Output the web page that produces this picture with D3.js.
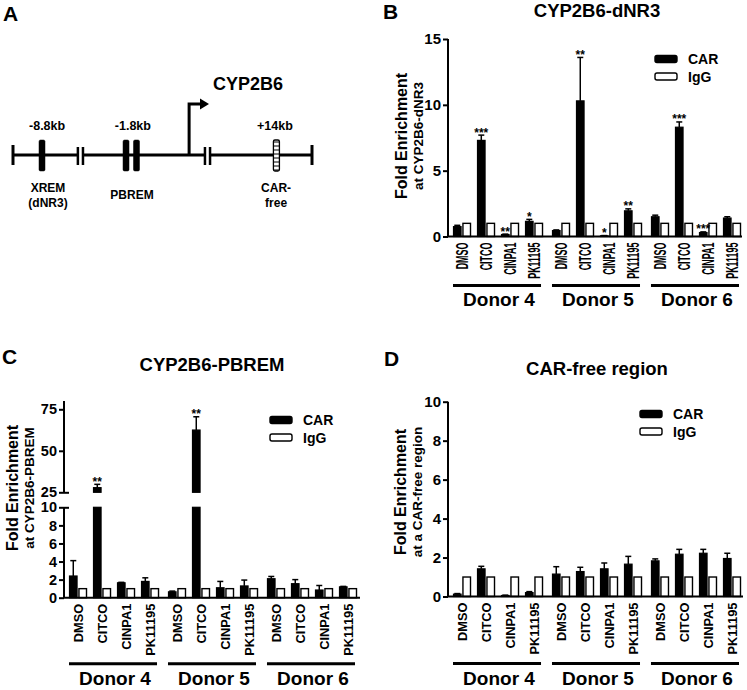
<!DOCTYPE html>
<html>
<head>
<meta charset="utf-8">
<script src="https://cdn.jsdelivr.net/npm/d3@7"></script>
<style>
  html, body { margin: 0; padding: 0; background: #fff; }
  svg { display: block; }
  text { font-family: "Liberation Sans", Arial, Helvetica, sans-serif; font-weight: bold; fill: #000; }
</style>
</head>
<body>
<svg id="chart" width="747" height="690"></svg>
<script>
// ---------------- DATA ----------------
const donors = ["Donor 4", "Donor 5", "Donor 6"];
const treatments = ["DMSO", "CITCO", "CINPA1", "PK11195"];
const seriesNames = ["CAR", "IgG"];

// Panel B: CYP2B6-dNR3 (order: Donor4 x4 treatments, Donor5, Donor6)
const dnr3CAR    = [0.75, 7.3, 0.15, 1.15,  0.45, 10.3, 0.05, 1.95,  1.5, 8.3, 0.3, 1.4];
const dnr3CARerr = [0.1, 0.4, 0.03, 0.15,   0.05, 3.3, 0.02, 0.15,   0.12, 0.4, 0.05, 0.1];
const dnr3IgG    = [1, 1, 1, 1,  1, 1, 1, 1,  1, 1, 1, 1];
const dnr3Sig    = ["", "***", "**", "*",  "", "**", "*", "**",  "", "***", "***", ""];
const dnr3Ticks  = [0, 5, 10, 15];

// Panel C: CYP2B6-PBREM (broken axis)
const pbremCAR    = [2.4, 27.8, 1.65, 1.8,  0.65, 62.5, 1.1, 1.3,  2.1, 1.55, 0.85, 1.2];
const pbremCARerr = [1.7, 2.0, 0.05, 0.4,   0.08, 8.0, 0.7, 0.65,  0.25, 0.45, 0.5, 0.05];
const pbremIgG    = [1, 1, 1, 1,  1, 1, 1, 1,  1, 1, 1, 1];
const pbremSig    = ["", "**", "", "",  "", "**", "", "",  "", "", "", ""];
const pbremTicksLow  = [0, 2, 4, 6, 8, 10];
const pbremTicksHigh = [25, 50, 75];

// Panel D: CAR-free region
const freeCAR    = [0.12, 1.42, 0.05, 0.2,  1.15, 1.28, 1.42, 1.66,  1.83, 2.17, 2.22, 1.95];
const freeCARerr = [0.03, 0.13, 0.02, 0.05, 0.38, 0.22, 0.3, 0.4,    0.1, 0.25, 0.2, 0.27];
const freeIgG    = [1, 1, 1, 1,  1, 1, 1, 1,  1, 1, 1, 1];
const freeTicks  = [0, 2, 4, 6, 8, 10];

// Panel A: schematic elements (schematic units 0..100 along the gene map)
const mapEnds   = [0, 100];
const mapBreaks = [[21.7, 23.4], [64.2, 65.9]];
const mapSites  = [
  {u: 9.7,  kind: "solid", kb: "-8.8kb", kbU: 11.4, name: ["XREM", "(dNR3)"], nameU: 11.7},
  {u: 37.8, kind: "solid", kb: null},
  {u: 41.3, kind: "solid", kb: "-1.8kb", kbU: 40.1, name: ["PBREM"], nameU: 39.8},
  {u: 88.1, kind: "open",  kb: "+14kb", kbU: 87.6, name: ["CAR-", "free"], nameU: 88.0}
];
const tssU = 58.9;

// ---------------- DRAW ----------------
const svg = d3.select("#chart");
svg.append("rect").attr("width", 747).attr("height", 690).attr("fill", "#fff");

// Panel letters
const letters = [["A", 3, 21], ["B", 383, 19], ["C", 2, 364], ["D", 384, 366]];
svg.selectAll("text.letter").data(letters).join("text")
  .attr("class", "letter").attr("x", d => d[1]).attr("y", d => d[2])
  .attr("font-size", 21).text(d => d[0]);

// ---- Panel A ----
(function () {
  const g = svg.append("g");
  const ux = d3.scaleLinear([0, 100], [13, 312]);
  const ly = 155;
  const segs = [[0, mapBreaks[0][0]], [mapBreaks[0][1], mapBreaks[1][0]], [mapBreaks[1][1], 100]];
  g.selectAll("line.seg").data(segs).join("line")
    .attr("x1", d => ux(d[0])).attr("x2", d => ux(d[1])).attr("y1", ly).attr("y2", ly)
    .attr("stroke", "#000").attr("stroke-width", 3);
  g.selectAll("line.end").data(mapEnds).join("line")
    .attr("x1", d => ux(d)).attr("x2", d => ux(d)).attr("y1", ly - 10).attr("y2", ly + 10)
    .attr("stroke", "#000").attr("stroke-width", 3);
  g.selectAll("line.brk").data(mapBreaks.flat()).join("line")
    .attr("x1", d => ux(d)).attr("x2", d => ux(d)).attr("y1", ly - 8).attr("y2", ly + 10)
    .attr("stroke", "#000").attr("stroke-width", 2.5);
  const defs = svg.append("defs");
  const pat = defs.append("pattern").attr("id", "hatch").attr("patternUnits", "userSpaceOnUse")
    .attr("width", 6).attr("height", 4);
  pat.append("rect").attr("width", 6).attr("height", 4).attr("fill", "#fff");
  pat.append("line").attr("x1", 0).attr("x2", 6).attr("y1", 2).attr("y2", 2)
    .attr("stroke", "#000").attr("stroke-width", 1);
  g.selectAll("rect.site").data(mapSites).join("rect")
    .attr("x", d => ux(d.u) - 3).attr("y", ly - 15).attr("width", 6).attr("height", 31)
    .attr("rx", 1.5)
    .attr("fill", d => d.kind === "solid" ? "#000" : "url(#hatch)")
    .attr("stroke", "#000").attr("stroke-width", d => d.kind === "solid" ? 0.5 : 1.3);
  const lab = mapSites.filter(d => d.kb);
  g.selectAll("text.kb").data(lab).join("text")
    .attr("x", d => ux(d.kbU)).attr("y", 130).attr("text-anchor", "middle")
    .attr("font-size", 12.5).text(d => d.kb);
  lab.forEach(d => {
    d.name.forEach((n, i) => {
      const y0 = d.name.length === 1 ? 199 : 192 + i * 15;
      g.append("text").attr("x", ux(d.nameU)).attr("y", y0).attr("text-anchor", "middle")
        .attr("font-size", 12).text(n);
    });
  });
  const tx = ux(tssU);
  g.append("path").attr("d", `M${tx},${ly} V104 H201`).attr("fill", "none")
    .attr("stroke", "#000").attr("stroke-width", 3);
  g.append("path").attr("d", `M200,98.5 L209,104 L200,109.5 Z`).attr("fill", "#000");
  g.append("text").attr("x", 213).attr("y", 90).attr("font-size", 18).text("CYP2B6");
})();

// ---- generic bar panel ----
function barPanel(o) {
  const g = svg.append("g");
  const x0 = d3.scaleBand(donors, o.xRange).paddingInner(0.03);
  const x1 = d3.scaleBand(treatments, [0, x0.bandwidth()]);
  const rows = [];
  donors.forEach((dn, di) => treatments.forEach((tr, ti) => {
    const i = di * 4 + ti;
    const c = x0(dn) + x1(tr) + x1.bandwidth() / 2;
    rows.push({dn, tr, c, car: o.car[i], err: o.err[i], igg: o.igg[i], sig: o.sig ? o.sig[i] : ""});
  }));
  const xs = c => d3.scaleBand(seriesNames, [c - 8.5, c + 8.5]).paddingInner(0.2);

  // y axis
  o.axes.forEach(ax => {
    const a = d3.axisLeft(ax.scale).tickValues(ax.ticks).tickSize(5).tickSizeOuter(0).tickPadding(2)
      .tickFormat(d3.format("d"));
    const ag = g.append("g").attr("transform", `translate(${o.axisX},0)`).call(a);
    ag.select(".domain").attr("stroke", "#000").attr("stroke-width", 2)
      .attr("d", `M0,${ax.scale.range()[0]}V${ax.scale.range()[1]}`);
    ag.selectAll(".tick line").attr("stroke", "#000").attr("stroke-width", 2);
    ag.selectAll(".tick text").attr("font-size", o.tickFont).attr("font-weight", "bold")
      .attr("font-family", "Liberation Sans, Arial, sans-serif").attr("fill", "#000");
    if (ax.cross) {
      ag.selectAll(".tick").filter(d => ax.cross.includes(d)).select("line").attr("x1", 5);
    }
  });
  const yTop = v => o.yOf(v);

  // bars
  rows.forEach(r => {
    const s = xs(r.c);
    const bw = s.bandwidth();
    o.segments(r.car).forEach(seg => {
      g.append("rect").attr("x", s("CAR")).attr("width", bw)
        .attr("y", seg[0]).attr("height", Math.max(0.5, seg[1] - seg[0]))
        .attr("fill", "#000").attr("stroke", "#000").attr("stroke-width", 1.2);
    });
    g.append("rect").attr("x", s("IgG")).attr("width", bw)
      .attr("y", yTop(r.igg)).attr("height", o.base - yTop(r.igg))
      .attr("fill", "#fff").attr("stroke", "#000").attr("stroke-width", 1.4);
    const cx = s("CAR") + bw / 2;
    const yt = yTop(r.car), ye = yTop(r.car + r.err);
    g.append("line").attr("x1", cx).attr("x2", cx).attr("y1", yt).attr("y2", ye)
      .attr("stroke", "#000").attr("stroke-width", 1.5);
    g.append("line").attr("x1", cx - 3).attr("x2", cx + 3).attr("y1", ye).attr("y2", ye)
      .attr("stroke", "#000").attr("stroke-width", 1.5);
    if (r.sig) {
      g.append("text").attr("x", cx).attr("y", ye + 1.5).attr("text-anchor", "middle")
        .attr("font-size", 12).attr("font-weight", "normal").text(r.sig);
    }
  });

  // x axis baseline
  g.append("line").attr("x1", o.axisX - 1).attr("x2", o.xEnd).attr("y1", o.base).attr("y2", o.base)
    .attr("stroke", "#000").attr("stroke-width", 2);

  // treatment labels (rotated; optionally condensed along the reading direction)
  g.selectAll("text.tr").data(rows).join("text")
    .attr("transform", d => `translate(${d.c},${o.base + 6}) rotate(-90) scale(${o.labelScale},1)`)
    .attr("text-anchor", "end").attr("dy", "0.35em").attr("font-size", o.labelFont)
    .text(d => d.tr);

  // donor underlines and labels
  donors.forEach(dn => {
    const a = x0(dn) + 3, b = x0(dn) + x0.bandwidth() - 5;
    g.append("line").attr("x1", a).attr("x2", b).attr("y1", o.base + o.underOff).attr("y2", o.base + o.underOff)
      .attr("stroke", "#000").attr("stroke-width", 3);
    g.append("text").attr("x", (a + b) / 2 + 2).attr("y", o.base + o.donorOff).attr("text-anchor", "middle")
      .attr("font-size", 19).text(dn);
  });

  // y labels
  g.append("text").attr("transform", `translate(${o.labelX1},${o.labelY}) rotate(-90)`)
    .attr("text-anchor", "middle").attr("dy", "0.35em").attr("font-size", 16).text("Fold Enrichment");
  g.append("text").attr("transform", `translate(${o.labelX2},${o.labelY}) rotate(-90)`)
    .attr("text-anchor", "middle").attr("dy", "0.35em").attr("font-size", 13.5).text(o.label2);

  // title
  g.append("text").attr("x", o.titleX).attr("y", o.titleY).attr("text-anchor", "middle")
    .attr("font-size", 18.5).text(o.title);

  // legend
  seriesNames.forEach((sn, i) => {
    const y = o.legY + i * 17.5;
    g.append("rect").attr("x", o.legX).attr("y", y - 3.5).attr("width", 22).attr("height", 7)
      .attr("rx", 2).attr("fill", sn === "CAR" ? "#000" : "#fff")
      .attr("stroke", "#000").attr("stroke-width", 1.4);
    g.append("text").attr("x", o.legX + 33).attr("y", y).attr("dy", "0.36em")
      .attr("font-size", 14).text(sn);
  });
}

// Panel B
(function () {
  const y = d3.scaleLinear([0, 15], [236.5, 39]);
  barPanel({
    axisX: 448, xRange: [450, 744], xEnd: 742, base: 236.5,
    car: dnr3CAR, err: dnr3CARerr, igg: dnr3IgG, sig: dnr3Sig,
    axes: [{scale: y, ticks: dnr3Ticks}], tickFont: 15,
    yOf: v => y(v),
    segments: v => [[y(v), y(0)]],
    labelFont: 16, labelScale: 0.56, underOff: 49, donorOff: 69,
    labelX1: 401, labelX2: 418, labelY: 136, label2: "at CYP2B6-dNR3",
    title: "CYP2B6-dNR3", titleX: 597, titleY: 17,
    legX: 655, legY: 59
  });
})();

// Panel C (broken axis)
(function () {
  const yLow = d3.scaleLinear([0, 10], [597.7, 507.3]);
  const yHigh = d3.scaleLinear([25, 80], [492.3, 401]);
  const yOf = v => v <= 10 ? yLow(v) : (v >= 25 ? yHigh(v) : yLow(10));
  barPanel({
    axisX: 64, xRange: [66, 360], xEnd: 360, base: 597.7,
    car: pbremCAR, err: pbremCARerr, igg: pbremIgG, sig: pbremSig,
    axes: [
      {scale: yLow, ticks: pbremTicksLow, cross: [10]},
      {scale: yHigh, ticks: pbremTicksHigh, cross: [25]}
    ], tickFont: 14.5,
    yOf,
    segments: v => v <= 10 ? [[yLow(v), yLow(0)]] : [[yLow(10), yLow(0)], [yHigh(v), yHigh(25)]],
    labelFont: 13.5, labelScale: 0.95, underOff: 66, donorOff: 87,
    labelX1: 12, labelX2: 29, labelY: 488, label2: "at CYP2B6-PBREM",
    title: "CYP2B6-PBREM", titleX: 212, titleY: 371,
    legX: 270, legY: 420
  });
})();

// Panel D
(function () {
  const y = d3.scaleLinear([0, 10], [596.5, 401.7]);
  barPanel({
    axisX: 448, xRange: [450, 744], xEnd: 743, base: 596.5,
    car: freeCAR, err: freeCARerr, igg: freeIgG, sig: null,
    axes: [{scale: y, ticks: freeTicks}], tickFont: 15,
    yOf: v => y(v),
    segments: v => [[y(v), y(0)]],
    labelFont: 13.5, labelScale: 0.95, underOff: 67, donorOff: 88,
    labelX1: 400, labelX2: 417, labelY: 492, label2: "at a CAR-free region",
    title: "CAR-free region", titleX: 597, titleY: 375,
    legX: 640, legY: 414
  });
})();
</script>
</body>
</html>
